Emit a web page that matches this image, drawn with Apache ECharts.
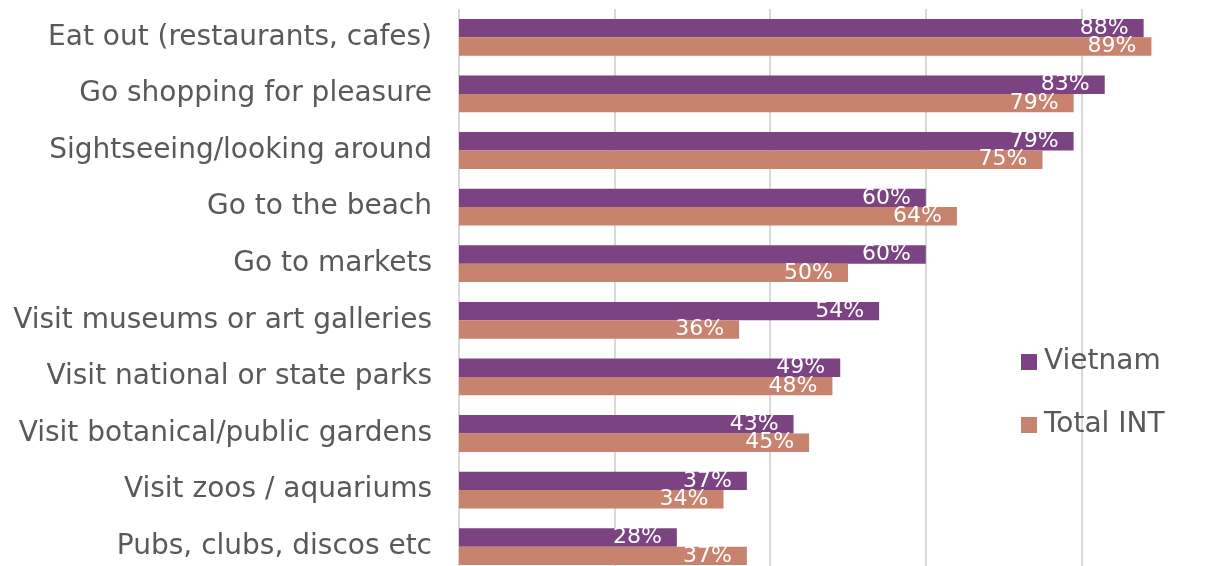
<!DOCTYPE html>
<html>
<head>
<meta charset="utf-8">
<script src="https://cdn.jsdelivr.net/npm/echarts@6/dist/echarts.min.js"></script>
<style>html,body{margin:0;padding:0;background:#fff;overflow:hidden;width:1225px;height:566px;}#c{width:1250px;height:590px;}</style>
</head>
<body>
<div id="c"></div>
<script>
const categories = [
  "Eat out (restaurants, cafes)",
  "Go shopping for pleasure",
  "Sightseeing/looking around",
  "Go to the beach",
  "Go to markets",
  "Visit museums or art galleries",
  "Visit national or state parks",
  "Visit botanical/public gardens",
  "Visit zoos / aquariums",
  "Pubs, clubs, discos etc"
];
const vietnam = [88, 83, 79, 60, 60, 54, 49, 43, 37, 28];
const totalInt = [89, 79, 75, 64, 50, 36, 48, 45, 34, 37];
const seriesNames = ["Vietnam", "Total INT"];
const colors = ["#7B4382", "#C8836E"];

const chart = echarts.init(document.getElementById('c'), null, {renderer: 'canvas'});
const font = "DejaVu Sans, Verdana, sans-serif";
const labelCfg = {
  show: true,
  position: 'insideRight',
  distance: 15,
  color: '#ffffff',
  fontFamily: font,
  fontSize: 22,
  formatter: p => p.value + '%'
};
chart.setOption({
  animation: false,
  color: colors,
  grid: {left: 459, width: 778, top: 9, height: 566, containLabel: false},
  xAxis: {
    type: 'value', min: 0, max: 100, interval: 20,
    axisLabel: {show: false},
    axisLine: {show: false},
    axisTick: {show: false},
    splitLine: {show: true, lineStyle: {color: '#d9d9d9', width: 2}}
  },
  yAxis: {
    type: 'category', data: categories, inverse: true,
    axisLine: {show: false},
    axisTick: {show: false},
    axisLabel: {color: '#595959', fontFamily: font, fontSize: 28, margin: 27}
  },
  legend: {
    orient: 'vertical', left: 1021, top: 348, padding: 0,
    itemWidth: 16, itemHeight: 16, itemGap: 35,
    icon: 'rect',
    textStyle: {color: '#595959', fontFamily: font, fontSize: 28, lineHeight: 28, padding: [0,0,0,2]},
    data: seriesNames
  },
  series: [
    {name: seriesNames[0], type: 'bar', data: vietnam, barGap: '0%', barCategoryGap: '35%', label: labelCfg},
    {name: seriesNames[1], type: 'bar', data: totalInt, barGap: '0%', barCategoryGap: '35%', label: labelCfg}
  ]
});
</script>
</body>
</html>
